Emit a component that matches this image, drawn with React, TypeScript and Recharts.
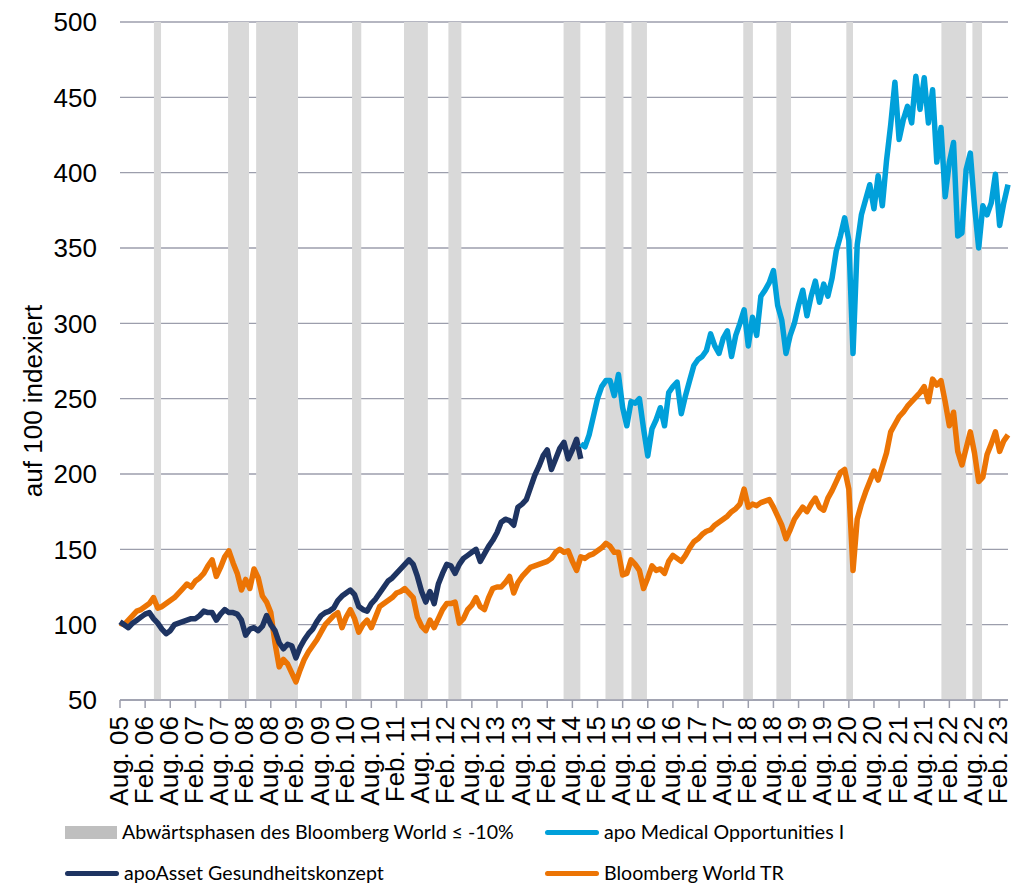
import React from 'react'
import { LineChart, Line, XAxis, YAxis, CartesianGrid, ReferenceArea } from 'recharts'

// month index 0 = Aug 2005, one point per month up to Apr 2023
const tickLabels = [
  'Aug. 05', 'Feb. 06', 'Aug. 06', 'Feb. 07', 'Aug. 07', 'Feb. 08', 'Aug. 08', 'Feb. 09', 'Aug. 09',
  'Feb. 10', 'Aug. 10', 'Feb. 11', 'Aug. 11', 'Feb. 12', 'Aug. 12', 'Feb. 13', 'Aug. 13', 'Feb. 14',
  'Aug. 14', 'Feb. 15', 'Aug. 15', 'Feb. 16', 'Aug. 16', 'Feb. 17', 'Aug. 17', 'Feb. 18', 'Aug. 18',
  'Feb. 19', 'Aug. 19', 'Feb. 20', 'Aug. 20', 'Feb. 21', 'Aug. 21', 'Feb. 22', 'Aug. 22', 'Feb. 23',
]
const tickMonths = tickLabels.map((_, i) => i * 6)
const yTicks = [50, 100, 150, 200, 250, 300, 350, 400, 450, 500]

// Bloomberg World TR
const worldTR = [
  101, 100, 103, 106, 109, 110, 112, 114, 118, 111,
  112, 114, 116, 118, 121, 124, 127, 125, 129, 131,
  134, 139, 143, 132, 138, 145, 149, 141, 134, 123,
  130, 124, 137, 131, 119, 115, 108, 88, 72, 77,
  74, 68, 62, 70, 77, 82, 86, 90, 95, 100,
  103, 106, 108, 98, 105, 110, 104, 95, 100, 103,
  98, 105, 112, 114, 116, 118, 121, 122, 124, 121,
  118, 105, 99, 96, 103, 98, 104, 110, 114, 114,
  115, 101, 104, 110, 113, 118, 112, 110, 118, 124,
  125, 125, 128, 132, 121, 128, 132, 135, 138, 139,
  140, 141, 142, 144, 148, 150, 148, 149, 142, 136,
  145, 144, 146, 147, 149, 151, 154, 152, 148, 148,
  133, 134, 143, 140, 136, 124, 131, 139, 136, 137,
  134, 142, 146, 144, 142, 146, 151, 155, 157, 160,
  162, 163, 166, 168, 170, 172, 175, 177, 180, 190,
  178, 180, 179, 181, 182, 183, 178, 172, 166, 157,
  163, 170, 174, 178, 175, 180, 184, 178, 176, 184,
  189, 195, 201, 203, 190, 136, 170, 180, 188, 195,
  202, 196, 205, 214, 228, 233, 238, 241, 245, 248,
  251, 254, 258, 248, 263, 259, 262, 248, 232, 241,
  215, 206, 217, 228, 214, 195, 198, 213, 220, 228,
  215, 222, 226,
]

// apoAsset Gesundheitskonzept (Aug 05 - Oct 14)
const konzept = [
  102, 100, 98, 101, 103, 105, 107, 108, 104, 101,
  97, 94, 96, 100, 101, 102, 103, 104, 104, 106,
  109, 108, 108, 103, 107, 110, 108, 108, 107, 103,
  93, 97, 98, 96, 99, 106, 100, 96, 88, 84,
  87, 86, 78, 85, 90, 94, 97, 102, 106, 108,
  109, 111, 116, 119, 121, 123, 120, 112, 110, 109,
  114, 117, 121, 125, 129, 131, 134, 137, 140, 143,
  140, 132, 122, 115, 122, 114, 127, 134, 140, 139,
  134, 140, 144, 146, 148, 150, 142, 147, 152, 156,
  161, 168, 170, 169, 166, 178, 180, 183, 191, 199,
  205, 212, 216, 203, 210, 217, 221, 210, 216, 223,
  210,
]

// apo Medical Opportunities I (from Oct 14)
const medicalStart = 110
const medical = [
  220, 218, 226, 238, 250, 258, 262, 262, 252, 266,
  244, 232, 248, 247, 250, 230, 212, 230, 236, 244,
  232, 254, 258, 261, 240, 252, 262, 272, 276, 278,
  282, 293, 285, 280, 290, 295, 278, 292, 300, 309,
  285, 304, 292, 318, 322, 327, 335, 312, 302, 280,
  292, 300, 312, 322, 305, 318, 328, 314, 326, 318,
  330, 348, 358, 370, 355, 280, 352, 372, 382, 392,
  376, 398, 378, 408, 432, 460, 422, 435, 444, 433,
  464, 442, 463, 433, 455, 407, 430, 384, 407, 420,
  358, 360, 402, 413, 378, 350, 378, 372, 380, 399,
  365, 380, 392,
]

// Abwärtsphasen (start, end in months since Aug 05)
const downPhases: [number, number][] = [
  [8.1, 9.8], [25.8, 30.8], [32.5, 42.5], [55.4, 57.6], [67.8, 73.5],
  [78.4, 81.5], [105.9, 109.9], [115.9, 120.2], [122.1, 125.8], [148.8, 151.1],
  [156.7, 160.2], [173.4, 175.0], [196.1, 202.0], [203.5, 205.8],
]

const C_NAVY = '#1e3462'
const C_BLUE = '#00a0da'
const C_ORANGE = '#ec7404'
const C_BAND = '#d9d9d9'
const C_GRID = '#9c9eac'

const data = worldTR.map((v, m) => ({
  m,
  world: v,
  konzept: m < konzept.length ? konzept[m] : null,
  medical: m >= medicalStart ? medical[m - medicalStart] : null,
}))

const axisFont = '"Liberation Sans", Arial, sans-serif'

function XTick(props: any) {
  const { x, y, payload } = props
  const label = tickLabels[Math.round(payload.value / 6)]
  return (
    <g transform={`translate(${x},${y})`}>
      <text transform="rotate(-90)" x={-6} y={7.5} textAnchor="end" fill="#000" fontSize={26} fontFamily={axisFont}>
        {label}
      </text>
    </g>
  )
}

const legendItems = [
  { name: 'Abwärtsphasen des Bloomberg World ≤ -10%', kind: 'box', color: '#bfbfbf', left: 65, top: 832 },
  { name: 'apo Medical Opportunities I', kind: 'line', color: C_BLUE, left: 545, top: 832 },
  { name: 'apoAsset Gesundheitskonzept', kind: 'line', color: C_NAVY, left: 65, top: 873 },
  { name: 'Bloomberg World TR', kind: 'line', color: C_ORANGE, left: 545, top: 873 },
]

export default function App() {
  return (
    <div style={{ position: 'absolute', left: 0, top: 0, width: 1012, height: 885, overflow: 'hidden', background: '#fff' }}>
      <LineChart width={1012} height={885} data={data} margin={{ top: 22, right: 4, bottom: 0, left: 0 }}>
        <CartesianGrid horizontal vertical={false} stroke={C_GRID} strokeWidth={1.3} />
        {downPhases.map(([a, b], i) => (
          <ReferenceArea key={i} x1={a} x2={b} y1={50} y2={500} fill={C_BAND} fillOpacity={1} stroke="none" ifOverflow="visible" />
        ))}
        <XAxis
          dataKey="m"
          type="number"
          domain={[0, 212]}
          ticks={tickMonths}
          interval={0}
          height={185}
          tick={<XTick />}
          tickSize={8}
          tickMargin={2}
          axisLine={{ stroke: C_GRID, strokeWidth: 1.5 }}
          tickLine={{ stroke: C_GRID, strokeWidth: 1.5 }}
        />
        <YAxis
          type="number"
          domain={[50, 500]}
          ticks={yTicks}
          interval={0}
          width={120}
          axisLine={false}
          tickLine={false}
          tickSize={0}
          tickMargin={23}
          tick={{ fill: '#000', fontSize: 26, fontFamily: axisFont }}
          label={(p: any) => {
            const vb = p.viewBox
            const cx = vb.x + 42
            const cy = vb.y + vb.height / 2 + 40
            return (
              <text x={cx} y={cy} transform={`rotate(-90, ${cx}, ${cy})`} textAnchor="middle" fontSize={26} fontFamily={axisFont} fill="#000">
                auf 100 indexiert
              </text>
            )
          }}
        />
        <Line type="linear" dataKey="world" stroke={C_ORANGE} strokeWidth={5.5} strokeLinejoin="round" dot={false} isAnimationActive={false} />
        <Line type="linear" dataKey="konzept" stroke={C_NAVY} strokeWidth={5.5} strokeLinejoin="round" dot={false} isAnimationActive={false} />
        <Line type="linear" dataKey="medical" stroke={C_BLUE} strokeWidth={5.5} strokeLinejoin="round" dot={false} isAnimationActive={false} />
      </LineChart>
      {legendItems.map((it, i) => (
        <div key={i} style={{ position: 'absolute', left: it.left, top: it.top - 11, height: 22, display: 'flex', alignItems: 'center', whiteSpace: 'nowrap', lineHeight: '22px' }}>
          {it.kind === 'box' ? (
            <div style={{ width: 52, height: 13, background: it.color }} />
          ) : (
            <div style={{ width: 54, height: 5, background: it.color, borderRadius: 3 }} />
          )}
          <span style={{ marginLeft: 5, fontFamily: 'Lato, "Open Sans", sans-serif', fontSize: 19.6, color: '#000' }}>{it.name}</span>
        </div>
      ))}
    </div>
  )
}
